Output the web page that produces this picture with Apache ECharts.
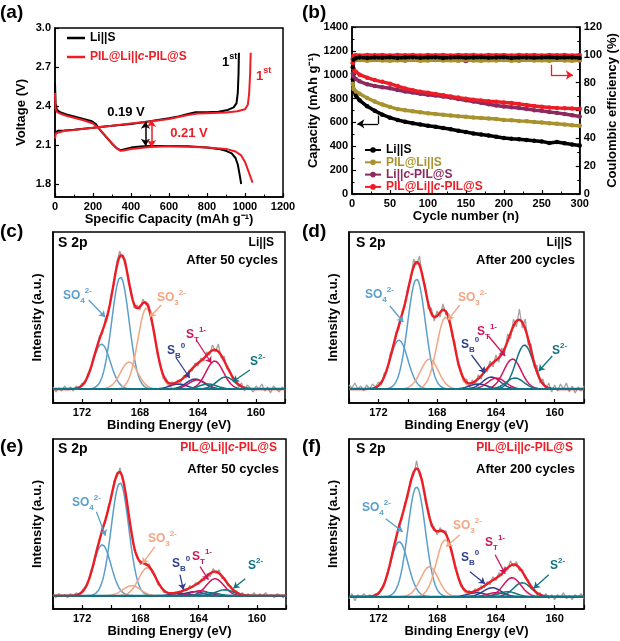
<!DOCTYPE html>
<html>
<head>
<meta charset="utf-8">
<script src="https://cdn.jsdelivr.net/npm/echarts@6/dist/echarts.min.js"></script>
<style>html,body{margin:0;padding:0;background:#fff;}#chart{width:620px;height:641px;}</style>
</head>
<body>
<div id="chart"></div>
<script>
const FONT = '"Liberation Sans", Arial, Helvetica, sans-serif';
const BLACK = '#000000', RED = '#ee1c25', OLIVE = '#a8922e', PURPLE = '#8c2a5e';
const C_SO4 = '#5a9fcc', C_SO3 = '#f4a582', C_SB = '#2e3f8f', C_ST = '#d1155a', C_S2 = '#117482', C_RAW = '#a3a3a3', C_ENV = '#ee1c25';

// ---------- (a) voltage profiles ----------
const aLiSDisCap = [0,3,10,30,60,100,150,190,215,240,270,300,330,345,360,400,450,500,600,700,800,860,900,930,950,962,972,980];
const aLiSDisV   = [2.58,2.42,2.37,2.35,2.335,2.32,2.30,2.285,2.26,2.21,2.16,2.11,2.07,2.06,2.065,2.08,2.088,2.092,2.093,2.09,2.08,2.07,2.055,2.035,2.0,1.95,1.87,1.80];
const aLiSChgCap = [0,5,15,50,100,200,300,400,500,600,650,700,740,800,860,910,940,955,962,966,968];
const aLiSChgV   = [2.19,2.205,2.21,2.212,2.218,2.232,2.248,2.262,2.282,2.305,2.32,2.338,2.352,2.352,2.356,2.37,2.39,2.42,2.5,2.65,2.81];
const aPilDisCap = [0,3,10,30,60,100,150,200,230,260,290,320,345,360,400,500,600,700,800,900,950,980,1000,1015,1030,1040];
const aPilDisV   = [2.5,2.38,2.355,2.34,2.325,2.31,2.29,2.265,2.23,2.18,2.13,2.08,2.055,2.058,2.07,2.085,2.09,2.087,2.08,2.07,2.05,2.02,1.97,1.91,1.85,1.81];
const aPilChgCap = [0,5,15,50,100,200,300,400,500,600,700,750,800,900,960,1000,1015,1022,1027,1030];
const aPilChgV   = [2.15,2.19,2.205,2.21,2.215,2.232,2.248,2.265,2.28,2.3,2.33,2.342,2.345,2.35,2.36,2.375,2.41,2.5,2.65,2.81];
const aVoltTicks = [1.8,2.1,2.4,2.7,3.0];

// ---------- (b) cycling ----------
const bCycles    = [1,2,5,10,20,30,40,50,60,70,80,90,100,110,120,130,140,150,160,170,180,190,200,210,220,230,240,250,260,270,280,290,300];
const bCapLiS    = [960,870,825,785,735,697,665,640,621,606,593,582,572,563,553,543,531,519,508,499,490,480,470,464,459,453,447,441,428,436,425,415,407];
const bCapPilLi  = [925,880,860,840,805,775,750,730,712,702,693,685,676,670,664,658,652,647,642,638,633,628,621,618,613,609,604,599,594,589,583,577,572];
const bCapLiPil  = [1010,985,965,945,920,905,895,887,872,860,850,840,832,825,818,808,796,786,776,765,752,742,733,727,720,712,703,697,688,680,670,660,650];
const bCapPilPil = [1100,1050,1025,1000,975,955,940,925,905,885,870,858,848,838,828,818,808,798,790,783,777,773,768,762,754,746,738,732,726,722,719,716,714];
const bCeLiS     = [91,96.5,97.6,98,97.8,98.1,97.9,98.2,97.8,98,98.2,97.9,98.1,98.2,97.8,98,98.2,97.9,98.1,98.2,97.9,98,98.2,97.8,98,98.1,97.9,98,98.2,97.9,98,98.1,97.8];
const bCePilLi   = [96,96.5,96.1,96.3,95.8,96.2,96,95.7,96.1,95.9,96.2,95.8,96,96.3,95.9,96.1,95.8,96.2,96,95.7,96.1,95.9,96.2,95.8,96,96.3,95.9,96.1,95.8,96.2,96,95.8,96.1];
const bCeLiPil   = [97,98,97.5,97.2,98,96.5,97.5,98,97,96,97.5,98.5,97,96.5,97.5,98,97,95.5,97,98,96.5,97.5,98,97,96,97.5,99,97,96.5,98,99.5,97,96];
const bCePilPil  = [94,99.4,99.7,99.6,99.8,99.7,99.9,99.6,99.8,99.7,99.9,99.6,99.8,99.7,99.9,99.6,99.8,99.7,99.9,99.6,99.8,99.7,99.9,99.6,99.8,99.7,99.9,99.6,99.8,99.7,99.9,99.6,99.8];
const bNames = ['Li||S','PIL@Li||S','Li||c-PIL@S','PIL@Li||c-PIL@S'];

// ---------- (c)-(f) XPS S 2p : raw data 174 -> 158 eV, 0.2 eV step ----------
const rawC = [2,-3,1,-2,3,-1,2,-2,3,0, 6,5,15,19,33,38,53,55,70,74, 94,104,127,138,131,129,106,99,81,84, 79,90,84,85,66,57,34,26,10,11, 3,7,4,9,6,13,11,19,18,26, 23,31,28,37,34,44,37,45,31,33, 20,19,9,11,2,6,-2,4,1,-3, 3,0,5,-2,2,-4,3,0,-3,2, -1];
const rawD = [4,1,6,0,3,-2,4,0,5,2, 7,4,16,18,35,39,57,60,77,82, 101,108,130,124,133,110,104,80,81,68, 78,72,85,74,75,53,47,24,21,7, 10,2,9,5,14,10,21,17,28,22, 34,27,41,36,55,50,70,62,80,61, 70,44,45,22,24,6,10,-1,6,-3, 4,-2,5,0,6,-3,3,-4,2,-2, 3];
const rawE = [1,-2,2,-1,1,-2,2,0,3,1, 5,9,12,25,31,47,54,69,73,90, 97,115,119,128,114,103,78,64,44,40, 31,35,30,32,23,21,11,10,3,4, 0,3,1,4,3,7,5,10,8,13, 11,17,15,22,19,27,22,26,17,18, 10,10,3,5,0,3,-1,2,0,3, -1,2,0,3,-1,1,-2,2,0,-2, 1];
const rawF = [-2,3,-4,2,-1,3,0,2,-1,3, 2,9,11,24,31,49,55,73,77,94, 99,118,121,136,121,117,95,88,70,70, 62,69,64,66,52,47,29,23,10,9, 3,6,3,8,5,11,9,15,12,20, 16,24,21,30,27,36,30,35,26,27, 18,17,8,9,1,4,-1,3,-2,2, -3,2,-1,4,-2,1,-3,2,-1,3, -2];
// fitted peaks (centre eV, height a.u.)
const peakSpecies = ['SO4','SO4','SO3','SO3','SB','SB','ST','ST','S2','S2'];
const cenC = [169.35,170.65,167.55,168.75,164.2,165.35,162.85,164.05,162.1,163.3];
const hC   = [112,45,81,27,10,5,28,9,12,5];
const cenD = [169.4,170.6,167.42,168.52,164.3,165.2,162.87,163.95,162.05,162.7];
const hD   = [110,49,72,30,12,5,30,11,44,11];
const cenE = [169.4,170.62,167.52,168.6,164.3,165.3,162.87,163.9,162.2,163.2];
const hE   = [113,51,28,10,4,2.5,17,5,6,3];
const cenF = [169.4,170.58,167.45,168.52,164.25,165.3,162.9,164.0,162.2,163.2];
const hF   = [110,55,57,30,9,4,19,4,14,5];
const SIGMA = 0.6;

// ================= build =================
const pairs = (xs, ys) => xs.map((x, i) => [x, ys[i]]);
const eRaw = rawC.map((_, i) => +(174 - 0.2 * i).toFixed(1));
const eFit = []; for (let i = 0; i <= 320; i++) eFit.push(+(158 + 0.05 * i).toFixed(2));
const gauss = (e, c, h) => h * Math.exp(-((e - c) * (e - c)) / (2 * SIGMA * SIGMA));
const speciesColor = {SO4: C_SO4, SO3: C_SO3, SB: C_SB, ST: C_ST, S2: C_S2};

const axLine = {show: true, onZero: false, lineStyle: {color: '#000', width: 1.5}};
const tickIn = {show: true, inside: true, length: 4, lineStyle: {color: '#000', width: 1.2}};
const minorIn = {show: true, splitNumber: 2, length: 2.5, lineStyle: {color: '#000', width: 1}};
const lbl = {color: '#000', fontWeight: 'bold', fontSize: 11, fontFamily: FONT, margin: 4, formatter: v => String(v)};
const nameStyle = {color: '#000', fontWeight: 'bold', fontSize: 13, fontFamily: FONT};
const base = {type: 'value', axisLine: axLine, axisTick: tickIn, splitLine: {show: false}, minorSplitLine: {show: false}, axisLabel: lbl, nameLocation: 'middle', nameTextStyle: nameStyle};
const ax = (o) => Object.assign({}, base, o);

const gridBox = {show: true, borderColor: '#000', borderWidth: 1.5, containLabel: false};
const grids = [
  Object.assign({left: 55, top: 28, width: 228, height: 169}, gridBox),
  Object.assign({left: 352, top: 27, width: 231, height: 167}, gridBox),
  Object.assign({left: 53, top: 232, width: 232, height: 171}, gridBox),
  Object.assign({left: 349, top: 232, width: 235, height: 171}, gridBox),
  Object.assign({left: 53, top: 439, width: 233, height: 170}, gridBox),
  Object.assign({left: 349, top: 439, width: 235, height: 170}, gridBox)
];

const xpsX = (g, gap) => ax({gridIndex: g, min: 158, max: 174, interval: 2, inverse: true, name: 'Binding Energy (eV)', nameGap: gap,
  axisLabel: Object.assign({}, lbl, {formatter: v => (v % 4 === 0 ? String(v) : '')})});
const xpsY = (g, mn, mx) => ax({gridIndex: g, min: mn, max: mx, name: 'Intensity (a.u.)', nameGap: 9, nameRotate: 90, axisTick: {show: false}, axisLabel: {show: false}});

const xAxis = [
  ax({gridIndex: 0, min: 0, max: 1200, interval: 200, minorTick: minorIn, name: 'Specific Capacity (mAh g\u207B\u00B9)', nameGap: 14}),
  ax({gridIndex: 1, min: 0, max: 300, interval: 50, minorTick: minorIn, name: 'Cycle number (n)', nameGap: 16}),
  xpsX(2, 14), xpsX(3, 14), xpsX(4, 16), xpsX(5, 16)
];
const yAxis = [
  ax({gridIndex: 0, min: 1.7, max: 3.0, name: 'Voltage (V)', nameGap: 27, nameRotate: 90,
      axisLabel: Object.assign({}, lbl, {customValues: aVoltTicks, formatter: v => v.toFixed(1)}),
      axisTick: Object.assign({}, tickIn, {customValues: aVoltTicks})}),
  ax({gridIndex: 1, min: 0, max: 1400, interval: 200, minorTick: minorIn, name: 'Capacity (mAh g\u207B\u00B9)', nameGap: 31, nameRotate: 90}),
  ax({gridIndex: 1, position: 'right', min: 0, max: 120, interval: 20, minorTick: minorIn, name: 'Coulombic efficiency (%)', nameGap: 21, nameRotate: 90}),
  xpsY(2, -14, 157), xpsY(3, -14, 157), xpsY(4, -13.3, 156.7), xpsY(5, -12.3, 157.7)
];

const series = [];
// ---- (a)
const aLine = (name, color, cap, v, ml) => {
  const s = {type: 'line', name: name, xAxisIndex: 0, yAxisIndex: 0, data: pairs(cap, v), symbol: 'none', showSymbol: false,
    lineStyle: {color: color, width: 2}, itemStyle: {color: color}, z: 3};
  if (ml) s.markLine = ml;
  return s;
};
const dblArrow = (color, x, y1, y2) => ({silent: true, symbol: ['arrow', 'arrow'], symbolSize: 7, label: {show: false},
  lineStyle: {color: color, width: 1.5, type: 'solid'}, data: [[{coord: [x, y1]}, {coord: [x, y2]}]]});
series.push(aLine('a:Li||S', BLACK, aLiSDisCap, aLiSDisV));
series.push(aLine('a:Li||S', BLACK, aLiSChgCap, aLiSChgV, dblArrow(BLACK, 476, 2.095, 2.278)));
series.push(aLine('a:PIL@Li||c-PIL@S', RED, aPilDisCap, aPilDisV));
series.push(aLine('a:PIL@Li||c-PIL@S', RED, aPilChgCap, aPilChgV, dblArrow(RED, 508, 2.085, 2.292)));

// ---- (b)
const bColors = [BLACK, OLIVE, PURPLE, RED];
const bCaps = [bCapLiS, bCapPilLi, bCapLiPil, bCapPilPil];
const bCes = [bCeLiS, bCePilLi, bCeLiPil, bCePilPil];
const bLine = (name, color, data, yIdx, lw) => ({type: 'line', name: name, xAxisIndex: 1, yAxisIndex: yIdx, data: data,
  symbol: 'circle', symbolSize: 4.5, showSymbol: true, lineStyle: {color: color, width: lw}, itemStyle: {color: color}, z: 3});
bCaps.forEach((arr, k) => series.push(bLine(bNames[k], bColors[k], pairs(bCycles, arr), 1, 3.5)));
[2, 1, 3, 0].forEach(k => series.push(bLine(bNames[k], bColors[k], pairs(bCycles, bCes[k]), 2, 3.5)));
series[4].markLine = {silent: true, symbol: ['none', 'arrow'], symbolSize: 7, label: {show: false},
  lineStyle: {color: BLACK, width: 1.3, type: 'solid'},
  data: [[{coord: [34.6, 658], symbol: 'none'}, {coord: [34.6, 588], symbol: 'none'}], [{coord: [34.6, 588]}, {coord: [7, 588]}]]};
series[series.length - 1].markLine = {silent: true, symbol: ['none', 'arrow'], symbolSize: 7, label: {show: false},
  lineStyle: {color: RED, width: 1.3, type: 'solid'},
  data: [[{coord: [262, 92.9], symbol: 'none'}, {coord: [262, 85.5], symbol: 'none'}], [{coord: [262, 85.5]}, {coord: [291, 85.5]}]]};

// ---- XPS
const xpsPanels = [
  {raw: rawC, cen: cenC, h: hC, idx: 2, arrows: [[C_SO4,[171.54,89],[170.4,72]],[C_SO3,[166.53,84],[167.33,72]],[C_SB,[165.5,31],[164.57,11]],[C_ST,[164.12,49],[163.08,26]],[C_S2,[160.43,19],[161.59,7.3]]]},
  {raw: rawD, cen: cenD, h: hD, idx: 3, arrows: [[C_SO4,[171.22,83],[170.3,67]],[C_SO3,[166.46,84],[167.26,69]],[C_SB,[165.66,34],[164.74,16]],[C_ST,[164.51,53],[163.37,33]],[C_S2,[160.16,33],[161.08,18]]]},
  {raw: rawE, cen: cenE, h: hE, idx: 4, arrows: [[C_SO4,[171.02,84],[170.4,60]],[C_SO3,[167.0,49],[167.87,32]],[C_SB,[165.28,21],[165.05,6]],[C_ST,[163.9,29],[163.33,16]],[C_S2,[160.8,17],[161.61,7.4]]]},
  {raw: rawF, cen: cenF, h: hF, idx: 5, arrows: [[C_SO4,[171.5,78],[170.35,65]],[C_SO3,[166.46,62],[167.38,50]],[C_SB,[165.77,25],[164.74,13]],[C_ST,[164.05,42],[163.37,23]],[C_S2,[160.4,22],[161.42,8.4]]]}
];
xpsPanels.forEach(p => {
  const common = {type: 'line', xAxisIndex: p.idx, yAxisIndex: p.idx + 1, symbol: 'none', showSymbol: false, silent: true};
  series.push(Object.assign({}, common, {data: pairs(eRaw, p.raw), lineStyle: {color: C_RAW, width: 1.3}, z: 2}));
  p.cen.forEach((c, k) => {
    series.push(Object.assign({}, common, {data: eFit.map(e => [e, gauss(e, c, p.h[k])]),
      lineStyle: {color: speciesColor[peakSpecies[k]], width: 1.5}, z: 3}));
  });
  series.push(Object.assign({}, common, {data: eFit.map(e => [e, p.cen.reduce((s, c, k) => s + gauss(e, c, p.h[k]), 0)]),
    lineStyle: {color: C_ENV, width: 2.4}, z: 4}));
  series.push(Object.assign({}, common, {data: [[158, 0], [174, 0]], lineStyle: {color: C_S2, width: 2}, z: 5,
    markLine: {silent: true, symbol: ['none', 'arrow'], symbolSize: 6, label: {show: false}, lineStyle: {width: 1.3, type: 'solid'},
      data: p.arrows.map(a => [{coord: a[1], lineStyle: {color: a[0], width: 1.3, type: 'solid'}, itemStyle: {color: a[0]}}, {coord: a[2]}])}}));
});

// ---- legends
const richSet = (size, lh) => {
  const f = {fontSize: size, fontWeight: 'bold', fontFamily: FONT, lineHeight: lh};
  return {
    k: Object.assign({color: BLACK}, f), r: Object.assign({color: RED}, f), ri: Object.assign({color: RED, fontStyle: 'italic'}, f),
    o: Object.assign({color: OLIVE}, f), p: Object.assign({color: PURPLE}, f), pi: Object.assign({color: PURPLE, fontStyle: 'italic'}, f)
  };
};
const legFmt = n => {
  const m = n.replace(/^a:/, '');
  if (m === 'Li||S') return '{k|Li||S}';
  if (m === 'PIL@Li||S') return '{o|PIL@Li||S}';
  if (m === 'Li||c-PIL@S') return '{p|Li||}{pi|c}{p|-PIL@S}';
  return '{r|PIL@Li||}{ri|c}{r|-PIL@S}';
};
const legend = [
  {left: 62, top: 26, orient: 'vertical', itemWidth: 18, itemHeight: 2.5, itemGap: 5, selectedMode: false,
   data: [{name: 'a:Li||S', icon: 'rect'}, {name: 'a:PIL@Li||c-PIL@S', icon: 'rect'}], formatter: legFmt,
   textStyle: {fontSize: 12, fontWeight: 'bold', fontFamily: FONT, lineHeight: 14, rich: richSet(12, 14)}},
  {left: 359, top: 139, orient: 'vertical', itemWidth: 16, itemHeight: 7, itemGap: 0.3, selectedMode: false,
   data: bNames, formatter: legFmt,
   textStyle: {fontSize: 12, fontWeight: 'bold', fontFamily: FONT, lineHeight: 12, rich: richSet(12, 12)}}
];

// ---- text annotations
const chemRich = (color, size) => {
  const f = {fontFamily: FONT, fontWeight: 'bold', fill: color};
  const s = Math.round(size * 0.68);
  return {
    n: Object.assign({fontSize: size, lineHeight: size + 6, verticalAlign: 'middle'}, f),
    i: Object.assign({fontSize: size, lineHeight: size + 6, verticalAlign: 'middle', fontStyle: 'italic'}, f),
    sup: Object.assign({fontSize: s, verticalAlign: 'top'}, f),
    sub: Object.assign({fontSize: s, verticalAlign: 'bottom'}, f)
  };
};
const T = (x, y, text, o) => {
  o = o || {};
  const st = {x: x, y: y, text: text, fill: o.fill || '#000', font: 'bold ' + (o.size || 13) + 'px ' + FONT,
    align: o.align || 'left', verticalAlign: 'middle', textAlign: o.align || 'left', textVerticalAlign: 'middle'};
  if (o.rich) st.rich = o.rich;
  return {type: 'text', silent: true, z: 100, style: st};
};
const graphic = [
  T(0, 13, '(a)', {size: 19}), T(302, 13, '(b)', {size: 19}),
  T(0, 232, '(c)', {size: 19}), T(302, 232, '(d)', {size: 19}),
  T(0, 447, '(e)', {size: 19}), T(302, 447, '(f)', {size: 19}),
  T(222, 62, '{n|1}{sup|st}', {rich: chemRich(BLACK, 13)}),
  T(256, 76, '{n|1}{sup|st}', {rich: chemRich(RED, 13)}),
  T(126, 112, '0.19 V', {size: 13, align: 'center'}),
  T(189, 133, '0.21 V', {size: 13, align: 'center', fill: RED}),
  // (c)
  T(58, 243, 'S 2p', {size: 14}), T(274, 243, 'Li||S', {size: 12, align: 'right'}), T(278, 260, 'After 50 cycles', {size: 13, align: 'right'}),
  // (d)
  T(356, 243, 'S 2p', {size: 14}), T(572, 243, 'Li||S', {size: 12, align: 'right'}), T(575, 260, 'After 200 cycles', {size: 13, align: 'right'}),
  // (e)
  T(58, 449, 'S 2p', {size: 14}), T(277, 448, '{n|PIL@Li||}{i|c}{n|-PIL@S}', {align: 'right', rich: chemRich(RED, 12)}), T(279, 469, 'After 50 cycles', {size: 13, align: 'right'}),
  // (f)
  T(356, 449, 'S 2p', {size: 14}), T(573, 448, '{n|PIL@Li||}{i|c}{n|-PIL@S}', {align: 'right', rich: chemRich(RED, 12)}), T(575, 469, 'After 200 cycles', {size: 13, align: 'right'})
];
const speciesLabels = [
  [[63,296],[157,298],[167,351],[186,335],[250,362]],
  [[365,295],[458,298],[461,345],[477,332],[552,351]],
  [[72,503],[148,539],[172,564],[192,557],[248,566]],
  [[362,508],[453,526],[461,558],[485,543],[550,566]]
];
const speciesText = [['{n|SO}{sub|4}{sup|2-}', C_SO4], ['{n|SO}{sub|3}{sup|2-}', C_SO3], ['{n|S}{sub|B}{sup|0}', C_SB], ['{n|S}{sub|T}{sup|1-}', C_ST], ['{n|S}{sup|2-}', C_S2]];
speciesLabels.forEach(panel => panel.forEach((pos, k) => {
  graphic.push(T(pos[0], pos[1], speciesText[k][0], {rich: chemRich(speciesText[k][1], 12)}));
}));

const chart = echarts.init(document.getElementById('chart'), null, {renderer: 'canvas'});
chart.setOption({
  animation: false,
  backgroundColor: '#ffffff',
  textStyle: {fontFamily: FONT},
  grid: grids, xAxis: xAxis, yAxis: yAxis, legend: legend, series: series, graphic: graphic
});
</script>
</body>
</html>
